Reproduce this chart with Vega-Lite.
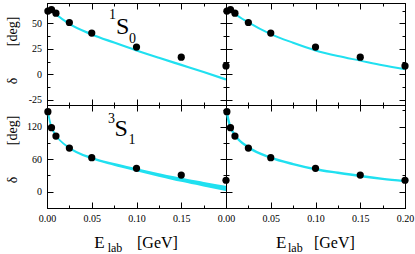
{
  "$schema": "https://vega.github.io/schema/vega-lite/v6.json",
  "padding": {"left": 4, "top": 2, "right": 2, "bottom": 0},
  "columns": 2,
  "spacing": 0,
  "bounds": "flush",
  "align": "each",
  "config": {
    "font": "Liberation Serif",
    "view": {"stroke": "black", "strokeWidth": 1},
    "axis": {
      "domainColor": "black", "domainWidth": 1, "tickColor": "black", "tickWidth": 1,
      "labelColor": "black", "labelFont": "Liberation Serif", "labelFontSize": 10,
      "titleFont": "Liberation Serif", "titleColor": "black", "titleFontWeight": "normal",
      "grid": false, "labelFlush": false, "labelOverlap": false, "labelBound": false
    }
  },
  "datasets": {
    "pts_1S0": [
      {"E": 0.001, "delta": 62.1}, {"E": 0.005, "delta": 63.6}, {"E": 0.01, "delta": 60.0},
      {"E": 0.025, "delta": 50.9}, {"E": 0.05, "delta": 40.5}, {"E": 0.1, "delta": 26.8},
      {"E": 0.15, "delta": 16.9}, {"E": 0.2, "delta": 8.3}
    ],
    "pts_3S1": [
      {"E": 0.001, "delta": 147.7}, {"E": 0.005, "delta": 118.2}, {"E": 0.01, "delta": 102.6},
      {"E": 0.025, "delta": 80.6}, {"E": 0.05, "delta": 62.8}, {"E": 0.1, "delta": 43.2},
      {"E": 0.15, "delta": 30.7}, {"E": 0.2, "delta": 21.2}
    ],
    "fit_1S0_left": [
      {"E": 0.008, "delta": 60.5}, {"E": 0.01, "delta": 59.0}, {"E": 0.025, "delta": 49.5},
      {"E": 0.05, "delta": 39.2}, {"E": 0.075, "delta": 31.2}, {"E": 0.1, "delta": 23.5},
      {"E": 0.125, "delta": 16.3}, {"E": 0.15, "delta": 9.3}, {"E": 0.175, "delta": 2.3},
      {"E": 0.2, "delta": -5.0}
    ],
    "fit_1S0_right": [
      {"E": 0.008, "delta": 61.0}, {"E": 0.01, "delta": 59.5}, {"E": 0.025, "delta": 51.0},
      {"E": 0.05, "delta": 39.5}, {"E": 0.075, "delta": 31.0}, {"E": 0.1, "delta": 23.5},
      {"E": 0.125, "delta": 18.0}, {"E": 0.15, "delta": 13.5}, {"E": 0.175, "delta": 9.0},
      {"E": 0.2, "delta": 5.0}
    ],
    "fit_3S1_left": [
      {"E": 0.0008, "lo": 150, "hi": 150}, {"E": 0.003, "lo": 131, "hi": 131},
      {"E": 0.005, "lo": 119, "hi": 119}, {"E": 0.01, "lo": 104, "hi": 104},
      {"E": 0.025, "lo": 80.7, "hi": 81.3}, {"E": 0.05, "lo": 61.5, "hi": 62.5},
      {"E": 0.075, "lo": 49.7, "hi": 51.3}, {"E": 0.1, "lo": 39.3, "hi": 41.7},
      {"E": 0.125, "lo": 29.4, "hi": 32.6}, {"E": 0.15, "lo": 20.0, "hi": 24.0},
      {"E": 0.175, "lo": 11.5, "hi": 16.5}, {"E": 0.2, "lo": 3.0, "hi": 9.0}
    ],
    "fit_3S1_right": [
      {"E": 0.0007, "delta": 149}, {"E": 0.003, "delta": 130}, {"E": 0.005, "delta": 119},
      {"E": 0.01, "delta": 104.5}, {"E": 0.025, "delta": 82}, {"E": 0.05, "delta": 63},
      {"E": 0.075, "delta": 51}, {"E": 0.1, "delta": 41.5}, {"E": 0.125, "delta": 35},
      {"E": 0.15, "delta": 29}, {"E": 0.175, "delta": 23.8}, {"E": 0.2, "delta": 19.5}
    ]
  },
  "concat": [
    {
      "width": 179, "height": 102,
      "resolve": {"axis": {"x": "independent", "y": "independent"}},
      "layer": [
        {
          "data": {"name": "fit_1S0_left"},
          "mark": {"type": "line", "color": "#20e0f0", "strokeWidth": 2.2, "interpolate": "monotone"},
          "encoding": {
            "x": {"field": "E", "type": "quantitative", "scale": {"domain": [0, 0.2], "nice": false, "zero": false},
                  "axis": {"orient": "top", "values": [0,0.025,0.05,0.075,0.1,0.125,0.15,0.175,0.2], "labels": false, "title": null,
                           "tickSize": {"condition": {"test": "round(datum.value*1000) % 50 === 0", "value": -6}, "value": -3}}},
            "y": {"field": "delta", "type": "quantitative", "scale": {"domain": [-30, 70], "nice": false, "zero": false},
                  "axis": {"orient": "right", "values": [-25,-12.5,0,12.5,25,37.5,50,62.5], "labels": false, "title": null,
                           "tickSize": {"condition": {"test": "round(datum.value*10) % 250 === 0", "value": -6}, "value": -3}}}
          }
        },
        {
          "data": {"name": "pts_1S0"},
          "mark": {"type": "circle", "color": "black", "opacity": 1, "size": 52},
          "encoding": {
            "x": {"field": "E", "type": "quantitative", "scale": {"domain": [0, 0.2], "nice": false, "zero": false},
                  "axis": {"orient": "bottom", "values": [0,0.025,0.05,0.075,0.1,0.125,0.15,0.175,0.2], "labels": false, "title": null,
                           "tickSize": {"condition": {"test": "round(datum.value*1000) % 50 === 0", "value": -6}, "value": -3}}},
            "y": {"field": "delta", "type": "quantitative", "scale": {"domain": [-30, 70], "nice": false, "zero": false},
                  "axis": {"orient": "left", "values": [-25,-12.5,0,12.5,25,37.5,50,62.5],
                           "labelExpr": "round(datum.value*10) % 250 === 0 ? (datum.value < 0 ? '-' + format(-datum.value, 'd') : format(datum.value, 'd')) : ''",
                           "labelPadding": 11.5,
                           "tickSize": {"condition": {"test": "round(datum.value*10) % 250 === 0", "value": -6}, "value": -3},
                           "title": "δ\u2003\u2003\u2005[deg]", "titleFontSize": 14, "titleX": -35, "titleY": 47,
                           "titleAngle": 270, "titleBaseline": "middle", "titleAlign": "center"}}
          }
        },
        {
          "data": {"values": [{"t": "S"}]},
          "mark": {"type": "text", "font": "Liberation Serif", "fontSize": 24, "align": "left", "baseline": "alphabetic", "color": "black"},
          "encoding": {
            "x": {"datum": 0.0771, "type": "quantitative", "axis": null},
            "y": {"datum": 40, "type": "quantitative", "axis": null},
            "text": {"field": "t"}
          }
        },
        {
          "data": {"values": [{"t": "1"}]},
          "mark": {"type": "text", "font": "Liberation Serif", "fontSize": 14, "align": "left", "baseline": "alphabetic", "color": "black", "dx": -7, "dy": -15},
          "encoding": {
            "x": {"datum": 0.0771, "type": "quantitative", "axis": null},
            "y": {"datum": 40, "type": "quantitative", "axis": null},
            "text": {"field": "t"}
          }
        },
        {
          "data": {"values": [{"t": "0"}]},
          "mark": {"type": "text", "font": "Liberation Serif", "fontSize": 14, "align": "left", "baseline": "alphabetic", "color": "black", "dx": 13, "dy": 9},
          "encoding": {
            "x": {"datum": 0.0771, "type": "quantitative", "axis": null},
            "y": {"datum": 40, "type": "quantitative", "axis": null},
            "text": {"field": "t"}
          }
        }
      ]
    },
    {
      "width": 179, "height": 102,
      "resolve": {"axis": {"x": "independent", "y": "independent"}},
      "layer": [
        {
          "data": {"name": "fit_1S0_right"},
          "mark": {"type": "line", "color": "#20e0f0", "strokeWidth": 2, "interpolate": "monotone"},
          "encoding": {
            "x": {"field": "E", "type": "quantitative", "scale": {"domain": [0, 0.2], "nice": false, "zero": false},
                  "axis": {"orient": "top", "values": [0,0.025,0.05,0.075,0.1,0.125,0.15,0.175,0.2], "labels": false, "title": null,
                           "tickSize": {"condition": {"test": "round(datum.value*1000) % 50 === 0", "value": -6}, "value": -3}}},
            "y": {"field": "delta", "type": "quantitative", "scale": {"domain": [-30, 70], "nice": false, "zero": false},
                  "axis": {"orient": "right", "values": [-25,-12.5,0,12.5,25,37.5,50,62.5], "labels": false, "title": null,
                           "tickSize": {"condition": {"test": "round(datum.value*10) % 250 === 0", "value": -6}, "value": -3}}}
          }
        },
        {
          "data": {"name": "pts_1S0"},
          "mark": {"type": "circle", "color": "black", "opacity": 1, "size": 52},
          "encoding": {
            "x": {"field": "E", "type": "quantitative", "scale": {"domain": [0, 0.2], "nice": false, "zero": false},
                  "axis": {"orient": "bottom", "values": [0,0.025,0.05,0.075,0.1,0.125,0.15,0.175,0.2], "labels": false, "title": null,
                           "tickSize": {"condition": {"test": "round(datum.value*1000) % 50 === 0", "value": -6}, "value": -3}}},
            "y": {"field": "delta", "type": "quantitative", "scale": {"domain": [-30, 70], "nice": false, "zero": false},
                  "axis": {"orient": "left", "values": [-25,-12.5,0,12.5,25,37.5,50,62.5], "labels": false, "title": null,
                           "tickSize": {"condition": {"test": "round(datum.value*10) % 250 === 0", "value": -6}, "value": -3}}}
          }
        }
      ]
    },
    {
      "width": 179, "height": 103,
      "resolve": {"axis": {"x": "independent", "y": "independent"}},
      "layer": [
        {
          "data": {"name": "fit_3S1_left"},
          "mark": {"type": "area", "color": "#20e0f0", "stroke": "#20e0f0", "strokeWidth": 1.8, "opacity": 1, "interpolate": "monotone"},
          "encoding": {
            "x": {"field": "E", "type": "quantitative", "scale": {"domain": [0, 0.2], "nice": false, "zero": false},
                  "axis": {"orient": "top", "values": [0,0.025,0.05,0.075,0.1,0.125,0.15,0.175,0.2], "labels": false, "title": null,
                           "tickSize": {"condition": {"test": "round(datum.value*1000) % 50 === 0", "value": -6}, "value": -3}}},
            "y": {"field": "lo", "type": "quantitative", "scale": {"domain": [-30, 160], "nice": false, "zero": false},
                  "axis": {"orient": "right", "values": [-30,0,30,60,90,120,150], "labels": false, "title": null,
                           "tickSize": {"condition": {"test": "datum.value % 60 === 0", "value": -6}, "value": -3}}},
            "y2": {"field": "hi"}
          }
        },
        {
          "data": {"name": "pts_3S1"},
          "mark": {"type": "circle", "color": "black", "opacity": 1, "size": 52},
          "encoding": {
            "x": {"field": "E", "type": "quantitative", "scale": {"domain": [0, 0.2], "nice": false, "zero": false},
                  "axis": {"orient": "bottom", "values": [0,0.025,0.05,0.075,0.1,0.125,0.15,0.175,0.2],
                           "labelExpr": "round(datum.value*1000) % 50 === 0 && datum.value < 0.19 ? format(datum.value, '.2f') : ''",
                           "labelPadding": 11, "title": null,
                           "tickSize": {"condition": {"test": "round(datum.value*1000) % 50 === 0", "value": -6}, "value": -3}}},
            "y": {"field": "delta", "type": "quantitative", "scale": {"domain": [-30, 160], "nice": false, "zero": false},
                  "axis": {"orient": "left", "values": [-30,0,30,60,90,120,150],
                           "labelExpr": "datum.value % 60 === 0 ? format(datum.value, 'd') : ''",
                           "labelPadding": 11.5,
                           "tickSize": {"condition": {"test": "datum.value % 60 === 0", "value": -6}, "value": -3},
                           "title": "δ\u2003\u2003\u2005[deg]", "titleFontSize": 14, "titleX": -35, "titleY": 44,
                           "titleAngle": 270, "titleBaseline": "middle", "titleAlign": "center"}}
          }
        },
        {
          "data": {"values": [{"t": "S"}]},
          "mark": {"type": "text", "font": "Liberation Serif", "fontSize": 24, "align": "left", "baseline": "alphabetic", "color": "black"},
          "encoding": {
            "x": {"datum": 0.0754, "type": "quantitative", "axis": null},
            "y": {"datum": 101.9, "type": "quantitative", "axis": null},
            "text": {"field": "t"}
          }
        },
        {
          "data": {"values": [{"t": "3"}]},
          "mark": {"type": "text", "font": "Liberation Serif", "fontSize": 14, "align": "left", "baseline": "alphabetic", "color": "black", "dx": -6.5, "dy": -13},
          "encoding": {
            "x": {"datum": 0.0754, "type": "quantitative", "axis": null},
            "y": {"datum": 101.9, "type": "quantitative", "axis": null},
            "text": {"field": "t"}
          }
        },
        {
          "data": {"values": [{"t": "1"}]},
          "mark": {"type": "text", "font": "Liberation Serif", "fontSize": 14, "align": "left", "baseline": "alphabetic", "color": "black", "dx": 14, "dy": 7.5},
          "encoding": {
            "x": {"datum": 0.0754, "type": "quantitative", "axis": null},
            "y": {"datum": 101.9, "type": "quantitative", "axis": null},
            "text": {"field": "t"}
          }
        },
        {
          "data": {"values": [{"t": "E"}]},
          "mark": {"type": "text", "font": "Liberation Serif", "fontSize": 17, "align": "left", "baseline": "alphabetic", "color": "black"},
          "encoding": {
            "x": {"datum": 0.0528, "type": "quantitative", "axis": null},
            "y": {"datum": -103.2, "type": "quantitative", "axis": null},
            "text": {"field": "t"}
          }
        },
        {
          "data": {"values": [{"t": "lab"}]},
          "mark": {"type": "text", "font": "Liberation Serif", "fontSize": 12, "align": "left", "baseline": "alphabetic", "color": "black"},
          "encoding": {
            "x": {"datum": 0.0678, "type": "quantitative", "axis": null},
            "y": {"datum": -111.2, "type": "quantitative", "axis": null},
            "text": {"field": "t"}
          }
        },
        {
          "data": {"values": [{"t": "[GeV]"}]},
          "mark": {"type": "text", "font": "Liberation Serif", "fontSize": 16, "align": "left", "baseline": "alphabetic", "color": "black"},
          "encoding": {
            "x": {"datum": 0.1006, "type": "quantitative", "axis": null},
            "y": {"datum": -103.2, "type": "quantitative", "axis": null},
            "text": {"field": "t"}
          }
        }
      ]
    },
    {
      "width": 179, "height": 103,
      "resolve": {"axis": {"x": "independent", "y": "independent"}},
      "layer": [
        {
          "data": {"name": "fit_3S1_right"},
          "mark": {"type": "line", "color": "#20e0f0", "strokeWidth": 2.4, "interpolate": "monotone"},
          "encoding": {
            "x": {"field": "E", "type": "quantitative", "scale": {"domain": [0, 0.2], "nice": false, "zero": false},
                  "axis": {"orient": "top", "values": [0,0.025,0.05,0.075,0.1,0.125,0.15,0.175,0.2], "labels": false, "title": null,
                           "tickSize": {"condition": {"test": "round(datum.value*1000) % 50 === 0", "value": -6}, "value": -3}}},
            "y": {"field": "delta", "type": "quantitative", "scale": {"domain": [-30, 160], "nice": false, "zero": false},
                  "axis": {"orient": "right", "values": [-30,0,30,60,90,120,150], "labels": false, "title": null,
                           "tickSize": {"condition": {"test": "datum.value % 60 === 0", "value": -6}, "value": -3}}}
          }
        },
        {
          "data": {"name": "pts_3S1"},
          "mark": {"type": "circle", "color": "black", "opacity": 1, "size": 52},
          "encoding": {
            "x": {"field": "E", "type": "quantitative", "scale": {"domain": [0, 0.2], "nice": false, "zero": false},
                  "axis": {"orient": "bottom", "values": [0,0.025,0.05,0.075,0.1,0.125,0.15,0.175,0.2],
                           "labelExpr": "round(datum.value*1000) % 50 === 0 ? format(datum.value, '.2f') : ''",
                           "labelPadding": 11, "title": null,
                           "tickSize": {"condition": {"test": "round(datum.value*1000) % 50 === 0", "value": -6}, "value": -3}}},
            "y": {"field": "delta", "type": "quantitative", "scale": {"domain": [-30, 160], "nice": false, "zero": false},
                  "axis": {"orient": "left", "values": [-30,0,30,60,90,120,150], "labels": false, "title": null,
                           "tickSize": {"condition": {"test": "datum.value % 60 === 0", "value": -6}, "value": -3}}}
          }
        },
        {
          "data": {"values": [{"t": "E"}]},
          "mark": {"type": "text", "font": "Liberation Serif", "fontSize": 17, "align": "left", "baseline": "alphabetic", "color": "black"},
          "encoding": {
            "x": {"datum": 0.0559, "type": "quantitative", "axis": null},
            "y": {"datum": -103.2, "type": "quantitative", "axis": null},
            "text": {"field": "t"}
          }
        },
        {
          "data": {"values": [{"t": "lab"}]},
          "mark": {"type": "text", "font": "Liberation Serif", "fontSize": 12, "align": "left", "baseline": "alphabetic", "color": "black"},
          "encoding": {
            "x": {"datum": 0.0693, "type": "quantitative", "axis": null},
            "y": {"datum": -111.2, "type": "quantitative", "axis": null},
            "text": {"field": "t"}
          }
        },
        {
          "data": {"values": [{"t": "[GeV]"}]},
          "mark": {"type": "text", "font": "Liberation Serif", "fontSize": 16, "align": "left", "baseline": "alphabetic", "color": "black"},
          "encoding": {
            "x": {"datum": 0.0983, "type": "quantitative", "axis": null},
            "y": {"datum": -103.2, "type": "quantitative", "axis": null},
            "text": {"field": "t"}
          }
        }
      ]
    }
  ]
}
